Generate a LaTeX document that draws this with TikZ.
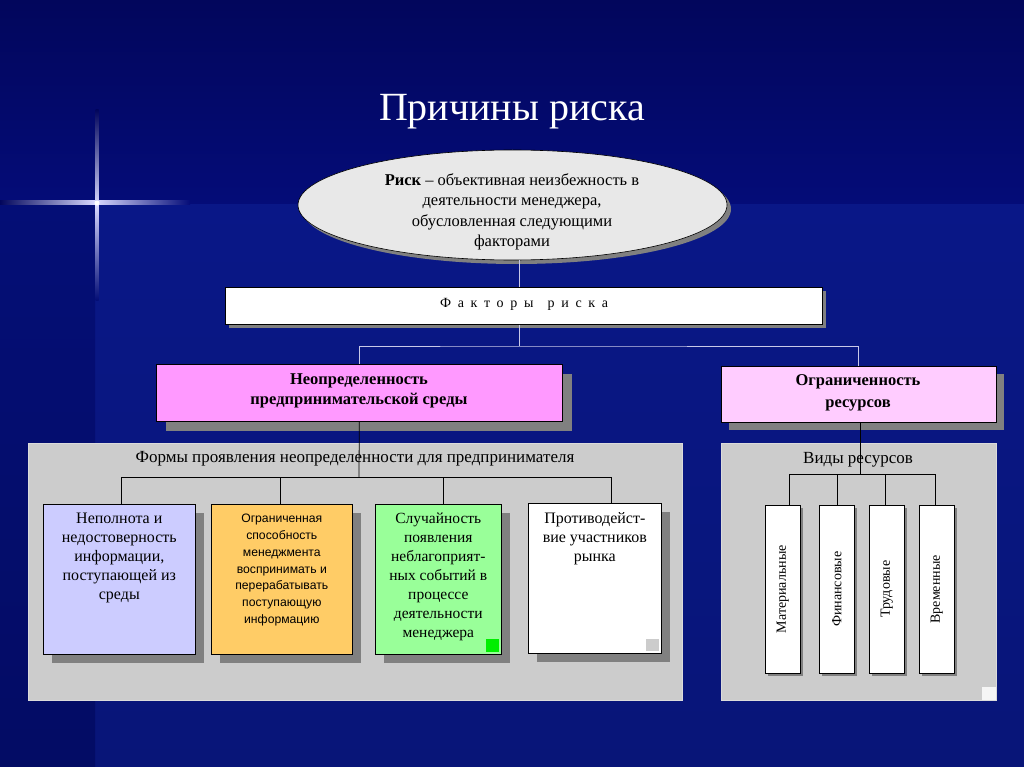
\documentclass[tikz,border=0pt]{standalone}
\usepackage{fontspec}
\setmainfont{Liberation Serif}
\newfontfamily\sansf{Liberation Sans}
\usetikzlibrary{shapes.geometric,shadows}
\definecolor{bgtop}{RGB}{2,6,92}
\definecolor{bgmid}{RGB}{4,12,120}
\definecolor{bglow}{RGB}{10,26,150}
\definecolor{bgleft}{RGB}{4,14,118}
\definecolor{ellfill}{RGB}{232,232,232}
\definecolor{pinkA}{RGB}{255,153,255}
\definecolor{pinkB}{RGB}{255,204,255}
\definecolor{panelgray}{RGB}{204,204,204}
\definecolor{lav}{RGB}{204,204,255}
\definecolor{orng}{RGB}{255,204,102}
\definecolor{grn}{RGB}{153,255,153}
\definecolor{grnsq}{RGB}{0,238,0}
\definecolor{shadowgray}{RGB}{128,128,128}
\definecolor{toplines}{RGB}{200,200,232}
\tikzset{
  sh/.style={drop shadow={shadow xshift=#1, shadow yshift=-#1, fill=shadowgray, opacity=1}},
  box/.style={draw=black, line width=0.6pt, inner sep=0pt, anchor=north west},
  conn/.style={draw=toplines, line width=0.8pt},
  iconn/.style={draw=black, line width=0.8pt},
  txt/.style={align=center, inner sep=0pt, text=black},
}
\begin{document}
\begin{tikzpicture}[x=1pt,y=-1pt]
\useasboundingbox (0,0) rectangle (1024,767);
% background
\shade[top color=bgtop, bottom color=bgmid] (0,0) rectangle (1024,205);
\shade[top color=bglow!90!black, bottom color=bglow!80!black] (95,205) rectangle (1024,767);
\shade[top color=bgleft, bottom color=bgleft!85!black] (0,205) rectangle (95,767);
% lens flare
\shade[left color=bgtop, right color=bgmid, middle color=white!85!blue] (0,201) rectangle (190,205);
\shade[top color=bgtop, bottom color=bgleft, middle color=white!85!blue] (95.5,110) rectangle (98.5,300);
\fill[white] (97,203) circle (2.5);

% title
\node[text=white, font=\fontsize{40}{44}\selectfont] (title) at (512,112) {Причины риска};

% ellipse
\node[ellipse, draw=black, fill=ellfill, line width=0.6pt, minimum width=429pt, minimum height=110pt, sh=4pt] (risk) at (512.5,205) {};
\node[txt, font=\fontsize{16.5}{20.5}\selectfont] (risktxt) at (512,212) {\textbf{Риск} -- объективная неизбежность в\\деятельности менеджера,\\обусловленная следующими\\факторами};

% factors box
\node[box, fill=white, minimum width=597pt, minimum height=37pt, sh=4pt] (fac) at (225,287) {};
\node[txt, font=\fontsize{14}{16}\selectfont\addfontfeatures{LetterSpace=48}] (factxt) at (524,304) {Факторы\hspace{14pt}риска};

% pink boxes
\node[box, fill=pinkA, minimum width=406pt, minimum height=57pt, sh=10pt] (neo) at (156,364) {};
\node[txt, font=\bfseries\fontsize{16.5}{20}\selectfont] at (359,391) {Неопределенность\\предпринимательской среды};
\node[box, fill=pinkB, minimum width=275pt, minimum height=56pt, sh=8pt] (ogr) at (721,366) {};
\node[txt, font=\bfseries\fontsize{16.5}{22}\selectfont] at (858,393) {Ограниченность\\ресурсов};

% top connectors
\coordinate (j0) at (519,346);
\draw[conn] (risk.south -| j0) -- (fac.north -| j0);
\draw[conn] (fac.south -| j0) -- (j0);
\draw[conn] (neo.north) |- (j0) -| (ogr.north);

% panels
\node[box, draw=panelgray!70!white, fill=panelgray, minimum width=654pt, minimum height=257pt] (p1) at (28,443) {};
\node[box, draw=panelgray!70!white, fill=panelgray, minimum width=275pt, minimum height=257pt] (p2) at (721,443) {};
\fill[white!92!gray] (982,687) rectangle (996,700);

% panel 1 connectors
\coordinate (j1) at (359,477);
\coordinate (t1) at (121,477);
\coordinate (t2) at (280,477);
\coordinate (t3) at (443,477);
\coordinate (t4) at (611,477);
\draw[iconn] (neo.south) -- (j1);
\draw[iconn] (t1) -- (t4);

\node[txt, font=\fontsize{17}{18}\selectfont] (p1t) at (355,459) {Формы проявления неопределенности для предпринимателя};

% small boxes
\node[box, fill=lav, minimum width=152pt, minimum height=150pt, sh=9pt] (b1) at (43,504) {};
\node[box, fill=orng, minimum width=141pt, minimum height=150pt, sh=9pt] (b2) at (211,504) {};
\node[box, fill=grn, minimum width=126pt, minimum height=150pt, sh=9pt] (b3) at (375,504) {};
\node[box, fill=white, minimum width=133pt, minimum height=150pt, sh=9pt] (b4) at (528,503) {};
\fill[grnsq] (486,639) rectangle (499,652);
\fill[panelgray] (646,639) rectangle (659,651);
\draw[iconn] (t1) -- (t1 |- b1.north);
\draw[iconn] (t2) -- (t2 |- b2.north);
\draw[iconn] (t3) -- (t3 |- b3.north);
\draw[iconn] (t4) -- (t4 |- b4.north);

\node[txt, anchor=north, font=\fontsize{16}{19}\selectfont] at ([yshift=-9pt]b1.north) {Неполнота и\\недостоверность\\информации,\\поступающей из\\среды};
\node[txt, anchor=north, font=\sansf\fontsize{12.2}{16.8}\selectfont] at ([yshift=-10pt]b2.north) {Ограниченная\\способность\\менеджмента\\воспринимать и\\перерабатывать\\поступающую\\информацию};
\node[txt, anchor=north, font=\fontsize{15.5}{19}\selectfont] at ([yshift=-9pt]b3.north) {Случайность\\появления\\неблагоприят-\\ных событий в\\процессе\\деятельности\\менеджера};
\node[txt, anchor=north, font=\fontsize{16}{19}\selectfont] at ([yshift=-9pt]b4.north) {Противодейст-\\вие участников\\рынка};

% panel 2
\coordinate (k0) at (860,474);
\coordinate (k1) at (789,474);
\coordinate (k2) at (837,474);
\coordinate (k3) at (885,474);
\coordinate (k4) at (935,474);
\draw[iconn] (ogr.south -| k0) -- (k0);
\draw[iconn] (k1) -- (k4);
\node[txt, font=\fontsize{17}{18}\selectfont] (p2t) at (858,460) {Виды ресурсов};

\node[box, fill=white, minimum width=35pt, minimum height=168pt, sh=3pt] (v1) at (765,505) {};
\node[box, fill=white, minimum width=35pt, minimum height=168pt, sh=3pt] (v2) at (819,505) {};
\node[box, fill=white, minimum width=35pt, minimum height=168pt, sh=3pt] (v3) at (869,505) {};
\node[box, fill=white, minimum width=35pt, minimum height=168pt, sh=3pt] (v4) at (919,505) {};
\draw[iconn] (k1) -- (k1 |- v1.north);
\draw[iconn] (k2) -- (k2 |- v2.north);
\draw[iconn] (k3) -- (k3 |- v3.north);
\draw[iconn] (k4) -- (k4 |- v4.north);
\node[txt, rotate=90, font=\fontsize{14}{15}\selectfont] at (v1.center) {Материальные};
\node[txt, rotate=90, font=\fontsize{14}{15}\selectfont] at (v2.center) {Финансовые};
\node[txt, rotate=90, font=\fontsize{14}{15}\selectfont] at (v3.center) {Трудовые};
\node[txt, rotate=90, font=\fontsize{14}{15}\selectfont] at (v4.center) {Временные};
\end{tikzpicture}
\end{document}
